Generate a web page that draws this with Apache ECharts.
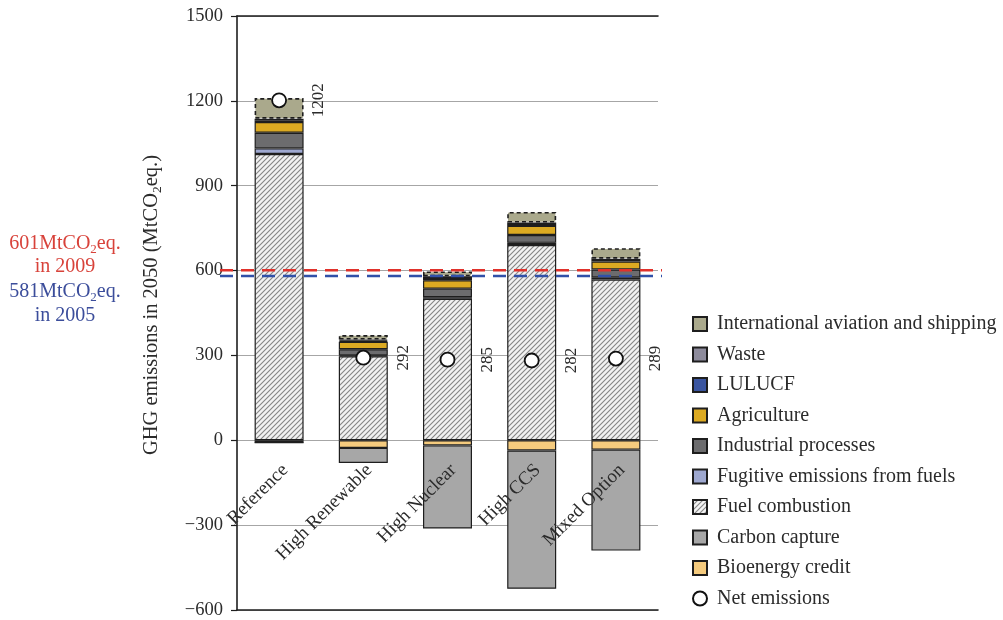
<!DOCTYPE html>
<html>
<head>
<meta charset="utf-8">
<script src="https://cdn.jsdelivr.net/npm/echarts@6/dist/echarts.min.js"></script>
<style>
  html, body { margin: 0; padding: 0; background: #ffffff; }
  #chart { width: 1003px; height: 620px; }
</style>
</head>
<body>
<div id="chart"></div>
<script>
// 2050 GHG emissions by scenario (MtCO2eq.)
const scenarios = ['Reference', 'High Renewable', 'High Nuclear', 'High CCS', 'Mixed Option'];
const fuelCombustion = [1012, 297, 500, 690, 568];
const fugitiveEmissions = [20, 3, 6, 8, 8];
const industrialProcesses = [55, 22, 30, 28, 28];
const agriculture = [38, 26, 30, 32, 28];
const lulucf = [6, 4, 8, 7, 5];
const waste = [6, 4, 6, 5, 5];
const aviationShipping = [73, 16, 17, 37, 37];
const bioenergyCredit = [-8, -27, -18, -36, -33];
const carbonCapture = [0, -53, -294, -489, -357];
const netEmissions = [1202, 292, 285, 282, 289];

// Historic reference levels
const emissions2009 = 601;
const emissions2005 = 581;

const yMin = -600, yMax = 1500, yStep = 300;

const SERIF = "'Liberation Serif', 'DejaVu Serif', serif";
const TEXT = '#2b2b2b';
const EDGE = '#1e1e1e';

// Plot frame (px)
const PLOT_LEFT = 237, PLOT_RIGHT = 345, PLOT_TOP = 16, PLOT_BOTTOM = 10;
const CHART_H = 620;
// Pixel row of the zero line, where the scenario names hang
const zeroRow = PLOT_TOP + (yMax / (yMax - yMin)) * (CHART_H - PLOT_TOP - PLOT_BOTTOM);
const LABEL_SHIFT = 6;

// Diagonal hatch used for fuel combustion
function hatchPattern() {
  const s = 5;
  const c = document.createElement('canvas');
  c.width = s; c.height = s;
  const g = c.getContext('2d');
  g.fillStyle = '#f2f2f2';
  g.fillRect(0, 0, s, s);
  g.strokeStyle = '#858585';
  g.lineWidth = 1.1;
  g.beginPath();
  g.moveTo(-1, s + 1); g.lineTo(s + 1, -1);
  g.moveTo(-1, 1); g.lineTo(1, -1);
  g.moveTo(s - 1, s + 1); g.lineTo(s + 1, s - 1);
  g.stroke();
  return { image: c, repeat: 'repeat' };
}

function stackBar(name, data, color, extra) {
  return Object.assign({
    name: name,
    type: 'bar',
    stack: 'total',
    xAxisIndex: 0,
    yAxisIndex: 0,
    barWidth: 49,
    data: data,
    itemStyle: { color: color, borderColor: EDGE, borderWidth: 1.2 },
    emphasis: { disabled: true }
  }, extra || {});
}

function refLine(name, value, color) {
  return {
    name: name,
    type: 'line',
    xAxisIndex: 3,
    yAxisIndex: 1,
    data: [[0, value], [1, value]],
    symbol: 'none',
    silent: true,
    z: 5,
    lineStyle: { color: color, width: 2.6, type: [13, 8] }
  };
}

const chart = echarts.init(document.getElementById('chart'), null, { renderer: 'canvas' });

const legendNames = [
  'International aviation and shipping', 'Waste', 'LULUCF', 'Agriculture',
  'Industrial processes', 'Fugitive emissions from fuels', 'Fuel combustion',
  'Carbon capture', 'Bioenergy credit'
];

function annot(text, y, main) {
  return {
    type: 'text', x: 65, y: y,
    style: {
      text: text,
      align: 'center', verticalAlign: 'middle',
      rich: {
        m: { fontFamily: SERIF, fontSize: 20, fill: main, lineHeight: 24, verticalAlign: 'middle' },
        s: { fontFamily: SERIF, fontSize: 13, fill: main, lineHeight: 24, verticalAlign: 'bottom', padding: [6, 0, 0, 0] }
      }
    }
  };
}

const option = {
  animation: false,
  backgroundColor: '#ffffff',
  grid: [
    { left: PLOT_LEFT, right: PLOT_RIGHT, top: PLOT_TOP, bottom: PLOT_BOTTOM, containLabel: false, outerBoundsMode: 'none' },
    { left: 220, right: 341, top: PLOT_TOP, bottom: PLOT_BOTTOM, containLabel: false, outerBoundsMode: 'none' },
    // label strip: its bottom edge sits on the zero line
    { left: PLOT_LEFT + LABEL_SHIFT, right: PLOT_RIGHT - LABEL_SHIFT, top: PLOT_TOP, bottom: CHART_H - zeroRow, containLabel: false, outerBoundsMode: 'none' }
  ],
  legend: {
    orient: 'vertical',
    left: 692,
    top: 314,
    padding: 0,
    itemWidth: 14,
    itemHeight: 14,
    itemGap: 10.5,
    icon: 'rect',
    selectedMode: false,
    textStyle: { fontFamily: SERIF, fontSize: 20, color: TEXT, padding: [0, 0, 0, 5] },
    data: legendNames.map(n => ({ name: n })).concat([{ name: 'Net emissions', icon: 'circle' }])
  },
  xAxis: [
    {
      type: 'category', gridIndex: 0, data: scenarios, position: 'bottom',
      axisLine: { show: false, onZero: false },
      axisTick: { show: false }, axisLabel: { show: false }, splitLine: { show: false }
    },
    {
      type: 'category', gridIndex: 0, data: scenarios, position: 'top',
      axisLine: { show: true, onZero: false, lineStyle: { color: EDGE, width: 1.6 } },
      axisTick: { show: false }, axisLabel: { show: false }, splitLine: { show: false }
    },
    {
      type: 'category', gridIndex: 0, data: scenarios, position: 'bottom',
      axisLine: { show: true, onZero: false, lineStyle: { color: EDGE, width: 1.6 } },
      axisTick: { show: false }, axisLabel: { show: false }, splitLine: { show: false }
    },
    { type: 'value', gridIndex: 1, min: 0, max: 1, show: false },
    {
      type: 'category', gridIndex: 2, data: scenarios, position: 'bottom',
      z: 20,
      axisLine: { show: false, onZero: false },
      axisTick: { show: false },
      splitLine: { show: false },
      axisLabel: {
        rotate: 45, margin: 27, interval: 0,
        fontFamily: SERIF, fontSize: 19, color: TEXT,
        padding: [60, 0, 0, 0]
      }
    }
  ],
  yAxis: [
    {
      type: 'value', gridIndex: 0, min: yMin, max: yMax, interval: yStep,
      name: '{m|GHG emissions in 2050 (MtCO}{s|2}{m|eq.)}',
      nameLocation: 'middle',
      nameGap: 73,
      nameTextStyle: {
        padding: [0, 0, 0, 16],
        rich: {
          m: { fontFamily: SERIF, fontSize: 20.5, color: TEXT, lineHeight: 24, verticalAlign: 'middle' },
          s: { fontFamily: SERIF, fontSize: 13.5, color: TEXT, lineHeight: 24, verticalAlign: 'bottom', padding: [6, 0, 0, 0] }
        }
      },
      axisLine: { show: true, lineStyle: { color: EDGE, width: 1.6 } },
      axisTick: { show: true, length: 6, lineStyle: { color: EDGE, width: 1.2 } },
      axisLabel: {
        margin: 14, fontFamily: SERIF, fontSize: 18.5, color: TEXT,
        formatter: v => (v < 0 ? '\u2212' + Math.abs(v) : String(v))
      },
      splitLine: { show: true, lineStyle: { color: '#a6a6a6', width: 1 } }
    },
    { type: 'value', gridIndex: 1, min: yMin, max: yMax, show: false },
    { type: 'value', gridIndex: 2, min: 0, max: 1, show: false }
  ],
  graphic: [
    annot('{m|601MtCO}{s|2}{m|eq.}', 244, '#d8423a'),
    annot('{m|in 2009}', 267, '#d8423a'),
    annot('{m|581MtCO}{s|2}{m|eq.}', 292, '#3b4d9b'),
    annot('{m|in 2005}', 316, '#3b4d9b')
  ],
  series: [
    stackBar('Fuel combustion', fuelCombustion, hatchPattern()),
    stackBar('Fugitive emissions from fuels', fugitiveEmissions, '#9ea8d0'),
    stackBar('Industrial processes', industrialProcesses, '#6c6c6e'),
    stackBar('Agriculture', agriculture, '#dcaa22'),
    stackBar('LULUCF', lulucf, '#3a55a0'),
    stackBar('Waste', waste, '#8d8b9c'),
    stackBar('International aviation and shipping', aviationShipping, '#aaa98c', {
      itemStyle: { color: '#aaa98c', borderColor: EDGE, borderWidth: 1.6, borderType: [4, 3] }
    }),
    stackBar('Bioenergy credit', bioenergyCredit, '#f5cb7e'),
    stackBar('Carbon capture', carbonCapture, '#a7a7a7'),
    refLine('2009 level', emissions2009, '#e0312b'),
    refLine('2005 level', emissions2005, '#3050a8'),
    {
      name: 'Net emissions',
      type: 'scatter',
      xAxisIndex: 0,
      yAxisIndex: 0,
      data: netEmissions,
      symbol: 'circle',
      symbolSize: 14,
      z: 10,
      itemStyle: { color: '#ffffff', borderColor: '#111111', borderWidth: 1.8, opacity: 1 },
      label: {
        show: true,
        position: 'right',
        distance: 32,
        rotate: 90,
        align: 'center',
        verticalAlign: 'middle',
        fontFamily: SERIF,
        fontSize: 17,
        color: TEXT,
        formatter: p => String(p.value)
      },
      emphasis: { disabled: true }
    }
  ]
};

chart.setOption(option);
</script>
</body>
</html>
